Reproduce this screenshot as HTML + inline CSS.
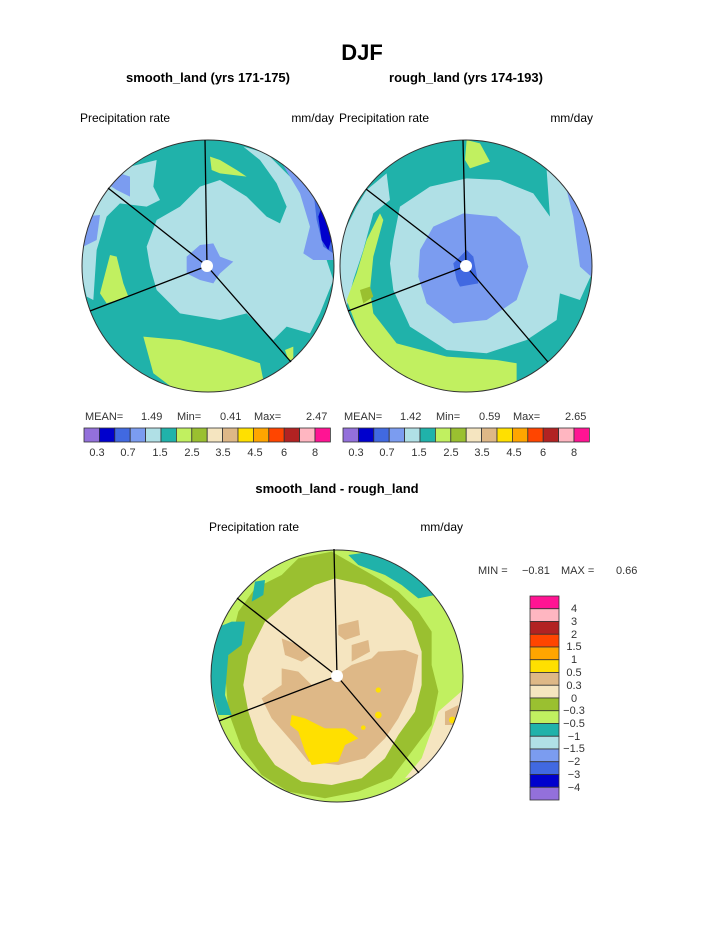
<!DOCTYPE html>
<html><head><meta charset="utf-8"><style>body{margin:0;background:#fff}svg{display:block}</style></head>
<body>
<svg width="723" height="935" viewBox="0 0 723 935" xmlns="http://www.w3.org/2000/svg" font-family="Liberation Sans, sans-serif">
<defs>
<clipPath id="c1"><circle cx="208" cy="266" r="126"/></clipPath>
<clipPath id="c2"><circle cx="466" cy="266" r="126"/></clipPath>
<clipPath id="c3"><circle cx="337" cy="676" r="126"/></clipPath>
</defs>
<rect width="723" height="935" fill="#fff"/>
<text x="362" y="60" font-size="22" font-weight="bold" text-anchor="middle">DJF</text>
<text x="208" y="82" font-size="13" font-weight="bold" text-anchor="middle">smooth_land (yrs 171-175)</text>
<text x="466" y="82" font-size="13" font-weight="bold" text-anchor="middle">rough_land (yrs 174-193)</text>
<text x="80" y="122" font-size="12">Precipitation rate</text>
<text x="334" y="122" font-size="12" text-anchor="end">mm/day</text>
<text x="339" y="122" font-size="12">Precipitation rate</text>
<text x="593" y="122" font-size="12" text-anchor="end">mm/day</text>

<!-- left map -->
<g clip-path="url(#c1)">
<rect x="80" y="138" width="260" height="260" fill="#20b2aa"/>
<g transform="translate(80,140) scale(0.3333)">
<polygon fill="#b0e0e6" points="200,320 230,240 300,200 360,140 420,120 500,170 560,230 600,250 620,200 590,130 540,60 490,20 560,40 640,120 700,220 730,330 760,420 720,520 690,580 620,560 580,600 500,520 420,540 300,520 230,450 210,380"/>
<polygon fill="#b0e0e6" points="20,230 60,170 110,110 150,80 230,60 220,140 240,180 200,200 120,190 80,230 50,330 40,480 20,470 0,380"/>
<polygon fill="#7b9cf0" points="600,60 680,130 720,200 760,300 760,360 700,360 670,340 690,260 660,160"/>
<polygon fill="#4169e1" points="700,150 730,190 760,280 760,340 730,320 710,240"/>
<polygon fill="#0000cd" points="725,200 760,280 745,330 725,300 715,230"/>
<polygon fill="#7b9cf0" points="320,350 360,315 400,310 420,350 460,365 420,400 400,430 360,420 320,400"/>
<polygon fill="#7b9cf0" points="80,130 120,100 150,110 150,170 110,150"/>
<polygon fill="#7b9cf0" points="10,230 60,225 50,300 10,320"/>
<polygon fill="#c1f060" points="190,590 300,600 420,630 540,670 550,720 450,760 300,760 220,700"/>
<polygon fill="#c1f060" points="90,345 110,350 130,430 145,470 80,490 60,460"/>
<polygon fill="#c1f060" points="390,50 420,60 470,90 500,110 420,100 395,90"/>
<polygon fill="#c1f060" points="615,630 640,620 640,660 625,660"/>
</g>
</g>
<circle cx="208" cy="266" r="126" fill="none" stroke="#333" stroke-width="1"/>
<g stroke="#000" stroke-width="1.3">
<line x1="207" y1="266" x2="205" y2="140"/><line x1="207" y1="266" x2="108" y2="188"/>
<line x1="207" y1="266" x2="90" y2="311"/><line x1="207" y1="266" x2="291" y2="362"/>
</g>
<circle cx="207" cy="266" r="6" fill="#fff"/>

<!-- right map -->
<g clip-path="url(#c2)">
<rect x="338" y="138" width="260" height="260" fill="#20b2aa"/>
<g transform="translate(80,140) scale(0.3333)">
<polygon fill="#b0e0e6" points="940,300 960,200 1050,140 1160,115 1260,120 1360,160 1410,230 1400,90 1450,130 1510,240 1545,380 1500,480 1440,460 1430,540 1340,600 1220,640 1100,630 990,560 940,450 930,370"/>
<polygon fill="#b0e0e6" points="770,380 790,280 830,200 860,150 920,100 930,180 880,220 850,330 820,420 800,500 770,480"/>
<polygon fill="#7b9cf0" points="1020,330 1060,260 1150,220 1250,230 1320,290 1345,380 1310,480 1220,540 1120,550 1040,490 1015,410"/>
<polygon fill="#4169e1" points="1120,370 1160,330 1180,350 1195,430 1140,440 1130,420"/>
<polygon fill="#7b9cf0" points="1460,150 1510,230 1545,330 1545,420 1500,380 1480,230"/>
<polygon fill="#c1f060" points="900,220 910,240 880,350 870,450 880,520 950,610 1100,650 1250,660 1310,670 1310,740 1150,770 1000,760 880,660 830,560 800,480 830,400 860,300"/>
<polygon fill="#c1f060" points="1160,0 1200,10 1230,65 1170,85 1155,60"/>
<polygon fill="#9ac030" points="840,450 870,440 880,470 850,490"/>
</g>
</g>
<circle cx="466" cy="266" r="126" fill="none" stroke="#333" stroke-width="1"/>
<g stroke="#000" stroke-width="1.3">
<line x1="466" y1="266" x2="463" y2="140"/><line x1="466" y1="266" x2="366" y2="189"/>
<line x1="466" y1="266" x2="348" y2="311"/><line x1="466" y1="266" x2="548" y2="362"/>
</g>
<circle cx="466" cy="266" r="6" fill="#fff"/>

<!-- stats & colorbars -->
<g font-size="11" fill="#333">
<text x="85" y="420">MEAN=</text><text x="141" y="420">1.49</text><text x="177" y="420">Min=</text><text x="220" y="420">0.41</text><text x="254" y="420">Max=</text><text x="306" y="420">2.47</text>
<text x="344" y="420">MEAN=</text><text x="400" y="420">1.42</text><text x="436" y="420">Min=</text><text x="479" y="420">0.59</text><text x="513" y="420">Max=</text><text x="565" y="420">2.65</text>
</g>
<g id="cb" stroke="#333" stroke-width="0.8">
<rect x="84" y="428" width="15.4" height="14" fill="#9370db"/>
<rect x="99.4" y="428" width="15.4" height="14" fill="#0000cd"/>
<rect x="114.8" y="428" width="15.4" height="14" fill="#4169e1"/>
<rect x="130.2" y="428" width="15.4" height="14" fill="#7b9cf0"/>
<rect x="145.6" y="428" width="15.4" height="14" fill="#b0e0e6"/>
<rect x="161" y="428" width="15.4" height="14" fill="#20b2aa"/>
<rect x="176.4" y="428" width="15.4" height="14" fill="#c1f060"/>
<rect x="191.8" y="428" width="15.4" height="14" fill="#9ac030"/>
<rect x="207.2" y="428" width="15.4" height="14" fill="#f5e5c0"/>
<rect x="222.6" y="428" width="15.4" height="14" fill="#deb887"/>
<rect x="238" y="428" width="15.4" height="14" fill="#ffe000"/>
<rect x="253.4" y="428" width="15.4" height="14" fill="#ffa500"/>
<rect x="268.8" y="428" width="15.4" height="14" fill="#ff4500"/>
<rect x="284.2" y="428" width="15.4" height="14" fill="#b22222"/>
<rect x="299.6" y="428" width="15.4" height="14" fill="#ffb6c1"/>
<rect x="315" y="428" width="15.4" height="14" fill="#ff1493"/>
</g>
<use href="#cb" x="259"/>
<g font-size="11" fill="#333" text-anchor="middle">
<text x="97" y="456">0.3</text><text x="128" y="456">0.7</text><text x="160" y="456">1.5</text><text x="192" y="456">2.5</text><text x="223" y="456">3.5</text><text x="255" y="456">4.5</text><text x="284" y="456">6</text><text x="315" y="456">8</text>
<text x="356" y="456">0.3</text><text x="387" y="456">0.7</text><text x="419" y="456">1.5</text><text x="451" y="456">2.5</text><text x="482" y="456">3.5</text><text x="514" y="456">4.5</text><text x="543" y="456">6</text><text x="574" y="456">8</text>
</g>

<!-- difference -->
<text x="337" y="493" font-size="13" font-weight="bold" text-anchor="middle">smooth_land - rough_land</text>
<text x="209" y="531" font-size="12">Precipitation rate</text>
<text x="463" y="531" font-size="12" text-anchor="end">mm/day</text>
<g clip-path="url(#c3)">
<rect x="205" y="545" width="265" height="265" fill="#c1f060"/>
<g transform="translate(205,545) scale(0.3333)">
<polygon fill="#9ac030" points="100,200 150,130 230,90 280,40 380,20 450,60 520,100 580,140 640,200 680,260 680,360 700,440 680,540 620,620 560,700 460,740 360,760 250,740 170,690 110,610 70,500 60,380 80,280"/>
<polygon fill="#f5e5c0" points="130,330 180,230 260,160 330,120 390,100 480,120 560,160 620,230 650,320 650,420 630,500 580,570 540,640 470,700 380,720 290,710 210,660 160,590 130,500 115,420"/>
<polygon fill="#f5e5c0" points="700,500 780,430 780,570 730,640 650,690 600,700 650,640"/>
<polygon fill="#deb887" points="170,460 230,420 230,370 280,380 320,420 380,400 440,360 500,340 520,320 600,315 640,330 620,440 580,520 540,580 480,640 400,660 310,650 270,600 200,520"/>
<polygon fill="#deb887" points="400,240 460,225 465,270 420,285 400,270"/>
<polygon fill="#deb887" points="440,300 490,285 495,320 440,350"/>
<polygon fill="#deb887" points="230,280 280,300 320,330 290,350 240,330"/>
<polygon fill="#deb887" points="720,500 760,480 760,540 720,540"/>
<polygon fill="#ffe000" points="260,510 300,520 360,550 420,550 460,580 420,600 400,650 320,660 300,620 280,560 255,540"/>
<circle cx="520" cy="435" r="8" fill="#ffe000"/><circle cx="520" cy="510" r="10" fill="#ffe000"/>
<circle cx="475" cy="548" r="7" fill="#ffe000"/><circle cx="742" cy="525" r="10" fill="#ffe000"/>
<polygon fill="#20b2aa" points="430,30 500,20 590,40 650,80 690,150 640,160 590,120 540,90 460,60"/>
<polygon fill="#20b2aa" points="30,250 80,230 120,230 110,300 70,330 60,450 80,510 40,510 10,400"/>
<polygon fill="#20b2aa" points="150,110 180,105 175,150 140,170"/>
</g>
</g>
<circle cx="337" cy="676" r="126" fill="none" stroke="#333" stroke-width="1"/>
<g stroke="#000" stroke-width="1.3">
<line x1="337" y1="676" x2="334" y2="549"/><line x1="337" y1="676" x2="237" y2="598"/>
<line x1="337" y1="676" x2="219" y2="721"/><line x1="337" y1="676" x2="419" y2="773"/>
</g>
<circle cx="337" cy="676" r="6" fill="#fff"/>

<text x="478" y="574" font-size="11" fill="#333">MIN =</text>
<text x="522" y="574" font-size="11" fill="#333">−0.81</text>
<text x="561" y="574" font-size="11" fill="#333">MAX =</text>
<text x="616" y="574" font-size="11" fill="#333">0.66</text>
<g stroke="#333" stroke-width="0.8">
<rect x="530" y="596" width="29" height="12.75" fill="#ff1493"/>
<rect x="530" y="608.75" width="29" height="12.75" fill="#ffb6c1"/>
<rect x="530" y="621.5" width="29" height="12.75" fill="#b22222"/>
<rect x="530" y="634.25" width="29" height="12.75" fill="#ff4500"/>
<rect x="530" y="647" width="29" height="12.75" fill="#ffa500"/>
<rect x="530" y="659.75" width="29" height="12.75" fill="#ffe000"/>
<rect x="530" y="672.5" width="29" height="12.75" fill="#deb887"/>
<rect x="530" y="685.25" width="29" height="12.75" fill="#f5e5c0"/>
<rect x="530" y="698" width="29" height="12.75" fill="#9ac030"/>
<rect x="530" y="710.75" width="29" height="12.75" fill="#c1f060"/>
<rect x="530" y="723.5" width="29" height="12.75" fill="#20b2aa"/>
<rect x="530" y="736.25" width="29" height="12.75" fill="#b0e0e6"/>
<rect x="530" y="749" width="29" height="12.75" fill="#7b9cf0"/>
<rect x="530" y="761.75" width="29" height="12.75" fill="#4169e1"/>
<rect x="530" y="774.5" width="29" height="12.75" fill="#0000cd"/>
<rect x="530" y="787.25" width="29" height="12.75" fill="#9370db"/>
</g>
<g font-size="11" fill="#333" text-anchor="middle">
<text x="574" y="612">4</text><text x="574" y="625">3</text><text x="574" y="638">2</text><text x="574" y="650">1.5</text><text x="574" y="663">1</text><text x="574" y="676">0.5</text><text x="574" y="689">0.3</text><text x="574" y="702">0</text><text x="574" y="714">−0.3</text><text x="574" y="727">−0.5</text><text x="574" y="740">−1</text><text x="574" y="752">−1.5</text><text x="574" y="765">−2</text><text x="574" y="778">−3</text><text x="574" y="791">−4</text>
</g>
</svg>
</body></html>
